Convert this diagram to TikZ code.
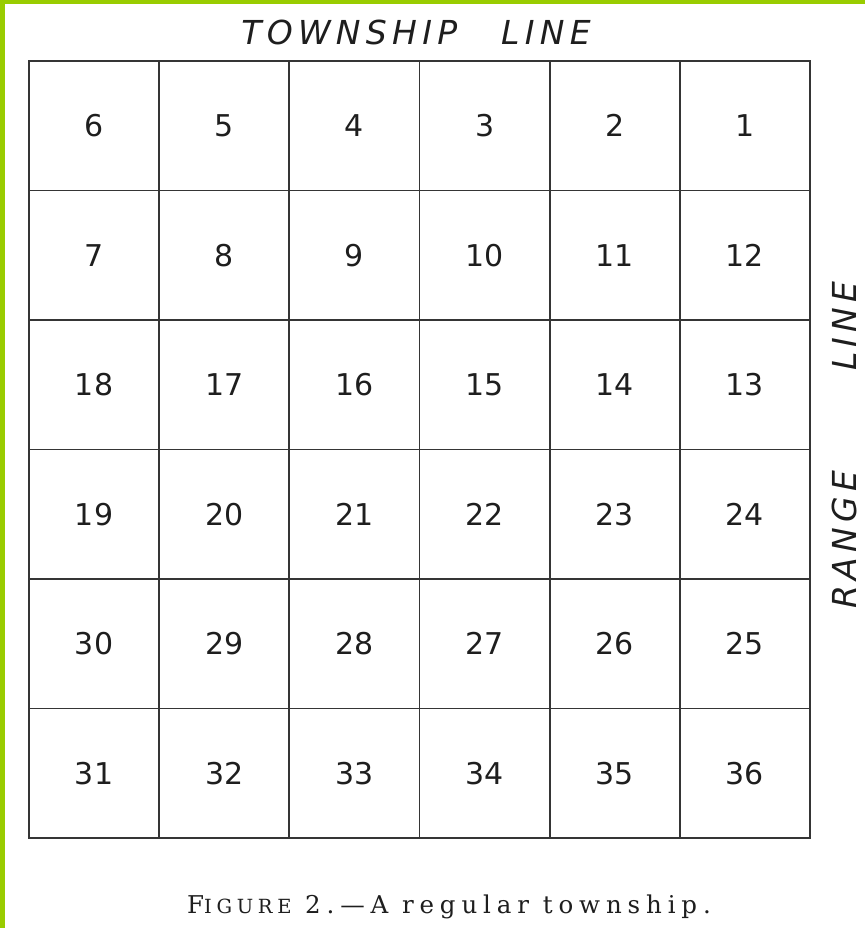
\documentclass[tikz,border=0pt]{standalone}
\usepackage{fontspec}
\usepackage{xcolor}
\usetikzlibrary{positioning}
\newfontfamily\lettering{DejaVu Sans}
\newfontfamily\spacedlettering[LetterSpace=16]{DejaVu Sans}
\newfontfamily\capfont[LetterSpace=24]{DejaVu Serif}
\definecolor{frame}{HTML}{99CC00}
\definecolor{ink}{HTML}{1E1E1E}

\begin{document}
\begin{tikzpicture}[
  x=1pt, y=-1pt,
  secline/.style={line width=1.8pt, ink!90},
  secnum/.style={inner sep=0pt, text=ink, font=\lettering\fontsize{30}{36}\selectfont},
  edgelabel/.style={inner sep=0pt, text=ink, font=\spacedlettering\itshape\fontsize{33}{40}\selectfont},
  caption/.style={inner sep=0pt, text=ink, font=\capfont\fontsize{24.5}{30}\selectfont}
]
  \useasboundingbox[fill=white] (0,0) rectangle (865,928);
  % green frame on left and top
  \fill[frame] (0,0) rectangle (5,928);
  \fill[frame] (0,0) rectangle (865,4);
  % section grid
  \draw[secline] (29,61) rectangle (810,838);
  \foreach \i in {1,...,5} {
    \draw[secline] ({29+130.17*\i},61) -- ({29+130.17*\i},838);
    \draw[secline] (29,{61+129.5*\i}) -- (810,{61+129.5*\i});
  }
  % section numbers, back and forth by rows
  \foreach \r in {0,...,5} {
    \foreach \c in {0,...,5} {
      \pgfmathtruncatemacro\n{mod(\r,2)==1 ? 6*\r+\c+1 : 6*\r+6-\c}
      \node[secnum] (s\n) at ({29+130.17*(\c+0.5)},{61+129.5*(\r+0.5)}) {\n};
    }
  }
  \node[edgelabel] (township) at (416,32) {TOWNSHIP\hspace{44pt}LINE};
  \node[edgelabel, rotate=90] (range) at (844,445) {RANGE\hspace{100pt}LINE};
  \node[caption] (cap) at (449,907) {F{\fontsize{19.5}{24}\selectfont IGURE} 2.—A regular township.};
\end{tikzpicture}
\end{document}
